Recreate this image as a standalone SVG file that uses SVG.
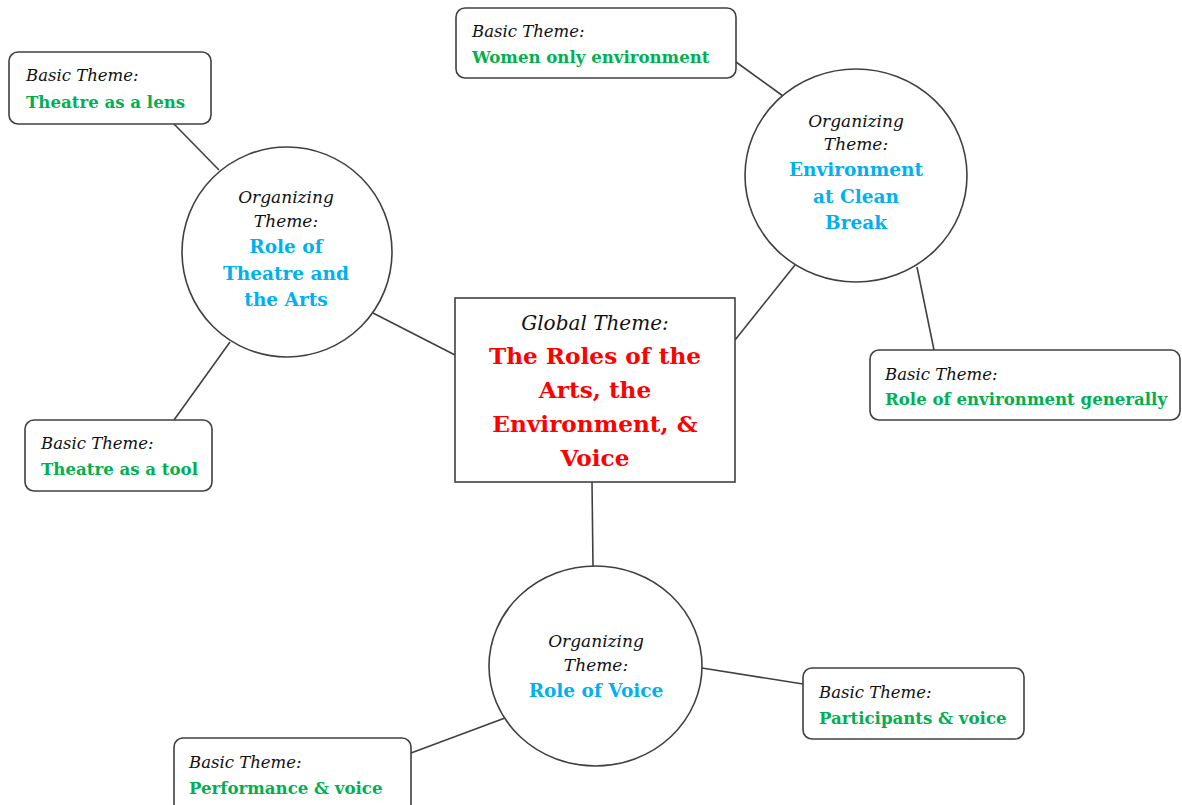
<svg xmlns="http://www.w3.org/2000/svg" width="1182" height="805" viewBox="0 0 1182 805">
<style>
.bg{fill:#ffffff}
.box{fill:#ffffff;stroke:#404040;stroke-width:1.6}
.org{fill:#ffffff;stroke:#404040;stroke-width:1.6}
.link{stroke:#404040;stroke-width:1.6;fill:none}
text{font-family:"DejaVu Serif","Liberation Serif",serif}
.lbl{font-style:italic;font-size:16.5px;fill:#111111}
.olbl{font-style:italic;font-size:17px;fill:#111111;text-anchor:middle}
.glbl{font-style:italic;font-size:20px;fill:#111111;text-anchor:middle}
.basic{font-weight:bold;font-size:16.6px;fill:#00B050}
.orgt{font-weight:bold;font-size:18.5px;fill:#00B0F0;text-anchor:middle}
.glob{font-weight:bold;font-size:23.2px;fill:#FF0000;text-anchor:middle}
</style>
<rect class="bg" x="0" y="0" width="1182" height="805"/>
<g id="connectors">
<line class="link" x1="174" y1="124" x2="219" y2="170"/>
<line class="link" x1="230" y1="342" x2="174" y2="420"/>
<line class="link" x1="373" y1="313" x2="455" y2="355"/>
<line class="link" x1="736" y1="62" x2="783" y2="96"/>
<line class="link" x1="795" y1="265" x2="735" y2="340"/>
<line class="link" x1="917" y1="267" x2="934" y2="350"/>
<line class="link" x1="592" y1="482" x2="593" y2="566"/>
<line class="link" x1="702" y1="668" x2="803" y2="684"/>
<line class="link" x1="505" y1="718" x2="411" y2="753"/>
</g>
<g id="global">
<rect class="box" x="455" y="298" width="280" height="184"/>
<text class="glbl" x="595" y="330">Global Theme:</text>
<text class="glob" x="595" y="364">The Roles of the</text>
<text class="glob" x="595" y="398">Arts, the</text>
<text class="glob" x="595" y="432">Environment, &amp;</text>
<text class="glob" x="595" y="466">Voice</text>
</g>
<g id="org-theatre">
<circle class="org" cx="287" cy="252" r="105"/>
<text class="olbl" x="286" y="203">Organizing</text>
<text class="olbl" x="286" y="227">Theme:</text>
<text class="orgt" x="286" y="253">Role of</text>
<text class="orgt" x="286" y="280">Theatre and</text>
<text class="orgt" x="286" y="306">the Arts</text>
</g>
<g id="org-environment">
<ellipse class="org" cx="856" cy="175.5" rx="111" ry="106.5"/>
<text class="olbl" x="856" y="127">Organizing</text>
<text class="olbl" x="856" y="150">Theme:</text>
<text class="orgt" x="856" y="176">Environment</text>
<text class="orgt" x="856" y="203">at Clean</text>
<text class="orgt" x="856" y="229">Break</text>
</g>
<g id="org-voice">
<ellipse class="org" cx="595.5" cy="666" rx="106.5" ry="100"/>
<text class="olbl" x="596" y="647">Organizing</text>
<text class="olbl" x="596" y="671">Theme:</text>
<text class="orgt" x="596" y="697">Role of Voice</text>
</g>
<g id="basic-lens">
<rect class="box" x="9" y="52" width="202" height="72" rx="9"/>
<text class="lbl" x="26" y="81">Basic Theme:</text>
<text class="basic" x="26" y="108">Theatre as a lens</text>
</g>
<g id="basic-tool">
<rect class="box" x="25" y="420" width="187" height="71" rx="9"/>
<text class="lbl" x="41" y="449">Basic Theme:</text>
<text class="basic" x="41" y="475">Theatre as a tool</text>
</g>
<g id="basic-women">
<rect class="box" x="456" y="8" width="280" height="70" rx="9"/>
<text class="lbl" x="472" y="37">Basic Theme:</text>
<text class="basic" x="472" y="63">Women only environment</text>
</g>
<g id="basic-environment">
<rect class="box" x="870" y="350" width="310" height="70" rx="9"/>
<text class="lbl" x="885" y="380">Basic Theme:</text>
<text class="basic" x="885" y="405">Role of environment generally</text>
</g>
<g id="basic-participants">
<rect class="box" x="803" y="668" width="221" height="71" rx="9"/>
<text class="lbl" x="819" y="698">Basic Theme:</text>
<text class="basic" x="819" y="724">Participants &amp; voice</text>
</g>
<g id="basic-performance">
<rect class="box" x="174" y="738" width="237" height="75" rx="9"/>
<text class="lbl" x="189" y="768">Basic Theme:</text>
<text class="basic" x="189" y="794">Performance &amp; voice</text>
</g>
</svg>
